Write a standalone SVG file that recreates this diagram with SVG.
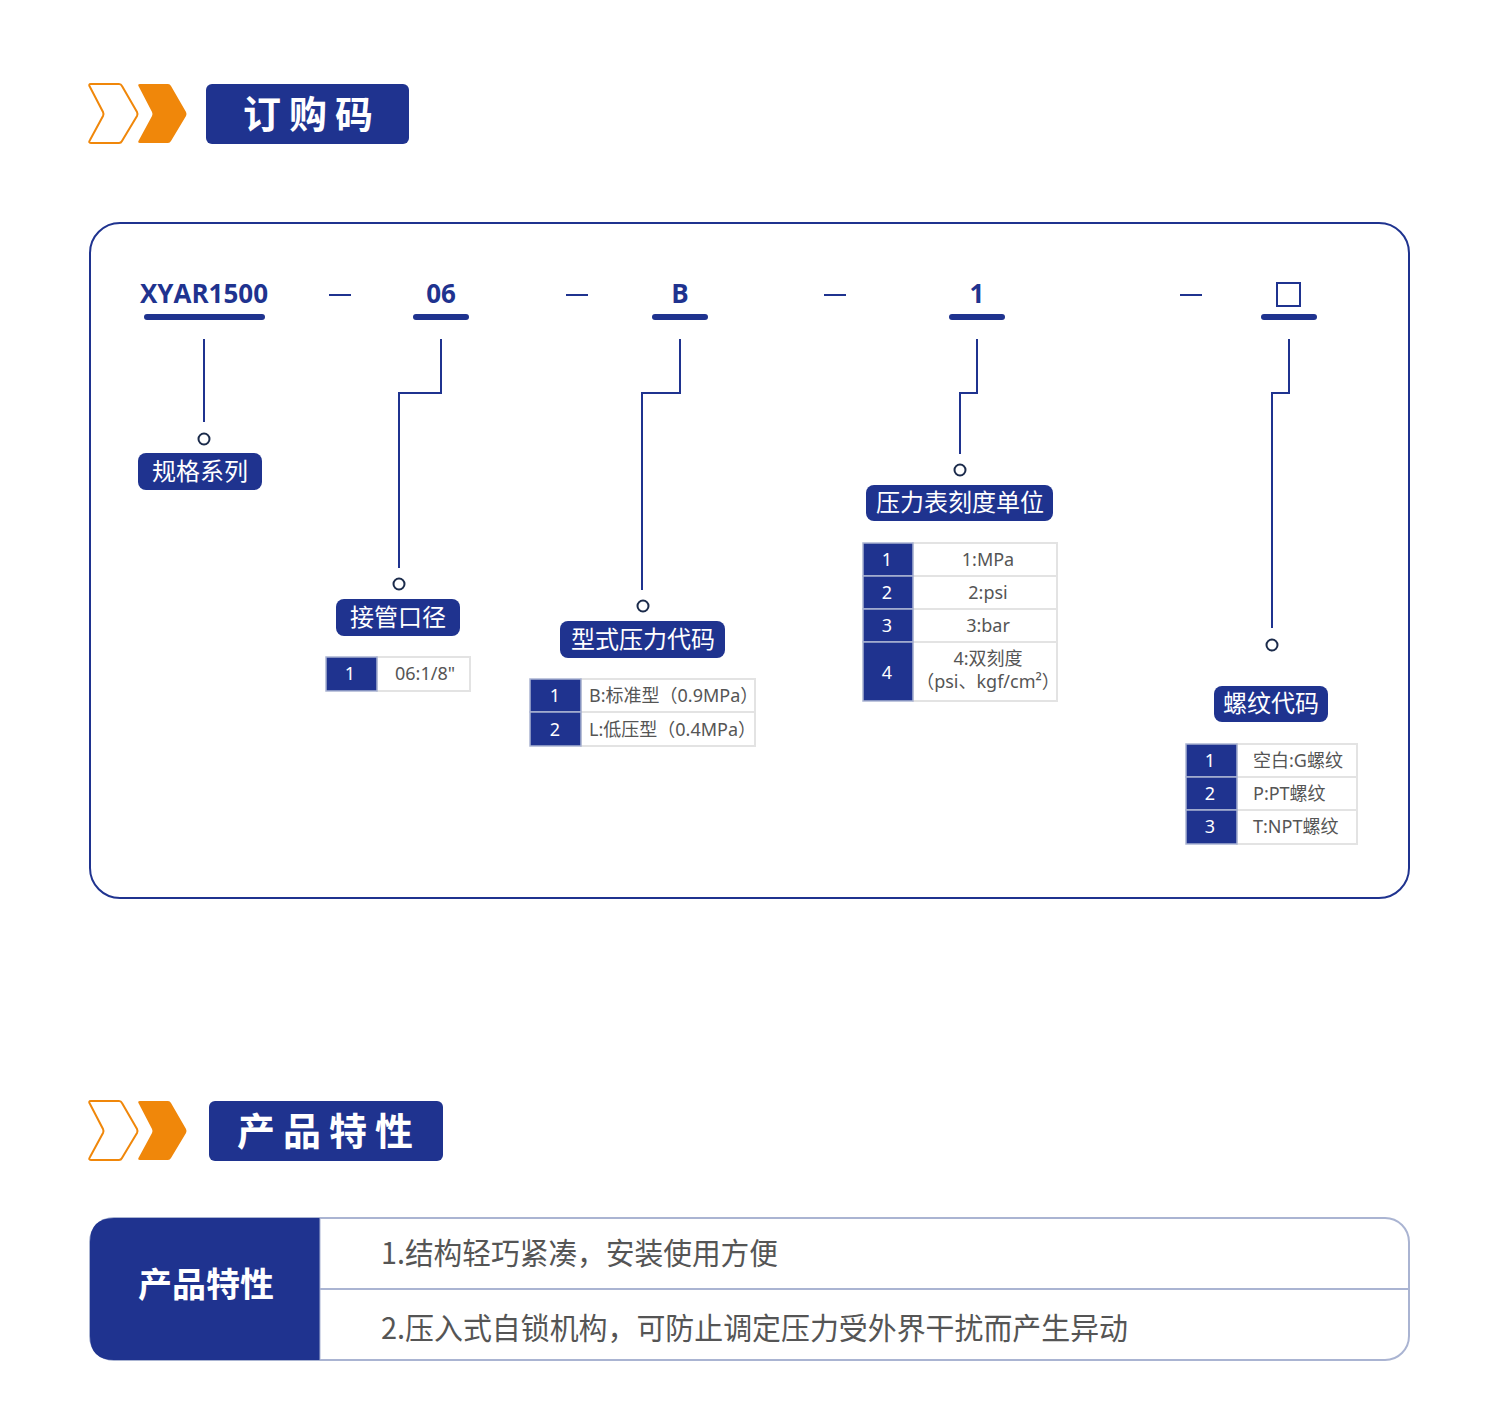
<svg xmlns="http://www.w3.org/2000/svg" width="1500" height="1415" viewBox="0 0 1500 1415">
<style>
.blue{fill:#1f338f}
.ln{fill:none;stroke:#1f338f;stroke-width:2}
.dot{fill:#fff;stroke:#1b2b4b;stroke-width:2}
.bar{stroke:#1f338f;stroke-width:6;stroke-linecap:round}
.code{font-family:"Open Sans","Liberation Sans",sans-serif;font-weight:bold;font-size:26px;fill:#1f338f;text-anchor:middle}
.lbl{font-family:"Noto Sans CJK SC","Noto Sans",sans-serif;font-size:24px;fill:#fff;text-anchor:middle}
.num{font-family:"Noto Sans","Noto Sans CJK SC",sans-serif;font-size:18px;fill:#fff;text-anchor:middle}
.cell{font-family:"Noto Sans","Noto Sans CJK SC",sans-serif;font-size:18px;fill:#555}
.cw{fill:#fff;stroke:#e3e3e3;stroke-width:2}
.cb{fill:#1f338f;stroke:#aab4d2;stroke-width:1.5}
.hd{font-family:"Noto Sans CJK SC",sans-serif;font-weight:bold;font-size:38px;fill:#fff}
.ft{font-family:"Noto Sans CJK SC",sans-serif;font-size:30px;fill:#555}
</style>
<defs>
<g id="chev">
<path d="M91,84 H119 Q121,84 122,86 L137,112 Q138,114 137,116 L122,141 Q121,143 119,143 H91 Q88,143 90,140 L103,116 Q104,114 103,112 L90,87 Q88,84 91,84 Z" fill="#fff" stroke="#f0870a" stroke-width="2"/>
<path d="M140,84 H168 Q170,84 171,86 L186,112 Q187,114 186,116 L171,141 Q170,143 168,143 H140 Q137,143 139,140 L152,116 Q153,114 152,112 L139,87 Q137,84 140,84 Z" fill="#f0870a"/>
</g>
</defs>
<rect width="1500" height="1415" fill="#fff"/>

<g id="header-order">
<use href="#chev"/>
<rect x="206" y="84" width="203" height="60" rx="6" class="blue"/>
<text x="243" y="128" class="hd" letter-spacing="8">订购码</text>
</g>

<rect id="frame" x="90" y="223" width="1319" height="675" rx="30" fill="#fff" stroke="#1f338f" stroke-width="2"/>

<g id="code-row">
<text x="204" y="303" class="code">XYAR1500</text>
<line x1="147" y1="317" x2="262" y2="317" class="bar"/>
<text x="441" y="303" class="code">06</text>
<line x1="416" y1="317" x2="466" y2="317" class="bar"/>
<text x="680" y="303" class="code">B</text>
<line x1="655" y1="317" x2="705" y2="317" class="bar"/>
<text x="977" y="303" class="code">1</text>
<line x1="952" y1="317" x2="1002" y2="317" class="bar"/>
<rect x="1277" y="283" width="23" height="23" fill="none" stroke="#1f338f" stroke-width="2"/>
<line x1="1264" y1="317" x2="1314" y2="317" class="bar"/>
<g class="ln">
<line x1="329" y1="295" x2="351" y2="295"/>
<line x1="566" y1="295" x2="588" y2="295"/>
<line x1="824" y1="295" x2="846" y2="295"/>
<line x1="1180" y1="295" x2="1202" y2="295"/>
</g>
</g>

<g id="connectors">
<path class="ln" d="M204,339 V422"/>
<path class="ln" d="M441,339 V393 H399 V568"/>
<path class="ln" d="M680,339 V393 H642 V590"/>
<path class="ln" d="M977,339 V393 H960 V454"/>
<path class="ln" d="M1289,339 V393 H1272 V628"/>
<circle cx="204" cy="439" r="5.5" class="dot"/>
<circle cx="399" cy="584" r="5.5" class="dot"/>
<circle cx="643" cy="606" r="5.5" class="dot"/>
<circle cx="960" cy="470" r="5.5" class="dot"/>
<circle cx="1272" cy="645" r="5.5" class="dot"/>
</g>

<g id="node-series">
<rect x="138" y="453" width="124" height="37" rx="8" class="blue"/>
<text x="200" y="480" class="lbl">规格系列</text>
</g>

<g id="node-port">
<rect x="336" y="599" width="124" height="37" rx="8" class="blue"/>
<text x="398" y="626" class="lbl">接管口径</text>
<rect x="377" y="657" width="93" height="34" class="cw"/>
<rect x="326" y="657" width="51" height="34" class="cb"/>
<text x="350" y="680" class="num">1</text>
<text x="395" y="680" class="cell">06:1/8"</text>
</g>

<g id="node-type">
<rect x="560" y="621" width="165" height="37" rx="8" class="blue"/>
<text x="643" y="648" class="lbl">型式压力代码</text>
<rect x="581" y="679" width="174" height="33" class="cw"/>
<rect x="581" y="712" width="174" height="34" class="cw"/>
<rect x="530" y="679" width="51" height="33" class="cb"/>
<rect x="530" y="712" width="51" height="34" class="cb"/>
<text x="555" y="702" class="num">1</text>
<text x="555" y="736" class="num">2</text>
<text x="589" y="702" class="cell">B:标准型（0.9MPa）</text>
<text x="589" y="736" class="cell">L:低压型（0.4MPa）</text>
</g>

<g id="node-unit">
<rect x="866" y="485" width="187" height="36" rx="8" class="blue"/>
<text x="960" y="511" class="lbl">压力表刻度单位</text>
<rect x="913" y="543" width="144" height="33" class="cw"/>
<rect x="913" y="576" width="144" height="33" class="cw"/>
<rect x="913" y="609" width="144" height="33" class="cw"/>
<rect x="913" y="642" width="144" height="59" class="cw"/>
<rect x="863" y="543" width="50" height="33" class="cb"/>
<rect x="863" y="576" width="50" height="33" class="cb"/>
<rect x="863" y="609" width="50" height="33" class="cb"/>
<rect x="863" y="642" width="50" height="59" class="cb"/>
<text x="887" y="566" class="num">1</text>
<text x="887" y="599" class="num">2</text>
<text x="887" y="632" class="num">3</text>
<text x="887" y="679" class="num">4</text>
<text x="988" y="566" class="cell" text-anchor="middle">1:MPa</text>
<text x="988" y="599" class="cell" text-anchor="middle">2:psi</text>
<text x="988" y="632" class="cell" text-anchor="middle">3:bar</text>
<text x="988" y="665" class="cell" text-anchor="middle">4:双刻度</text>
<text x="988" y="688" class="cell" text-anchor="middle">（psi、kgf/cm²）</text>
</g>

<g id="node-thread">
<rect x="1214" y="686" width="114" height="36" rx="8" class="blue"/>
<text x="1271" y="712" class="lbl">螺纹代码</text>
<rect x="1237" y="744" width="120" height="33" class="cw"/>
<rect x="1237" y="777" width="120" height="33" class="cw"/>
<rect x="1237" y="810" width="120" height="34" class="cw"/>
<rect x="1186" y="744" width="51" height="33" class="cb"/>
<rect x="1186" y="777" width="51" height="33" class="cb"/>
<rect x="1186" y="810" width="51" height="34" class="cb"/>
<text x="1210" y="767" class="num">1</text>
<text x="1210" y="800" class="num">2</text>
<text x="1210" y="833" class="num">3</text>
<text x="1253" y="767" class="cell">空白:G螺纹</text>
<text x="1253" y="800" class="cell">P:PT螺纹</text>
<text x="1253" y="833" class="cell">T:NPT螺纹</text>
</g>

<g id="header-features">
<use href="#chev" transform="translate(0,1017)"/>
<rect x="209" y="1101" width="234" height="60" rx="6" class="blue"/>
<text x="237" y="1145" class="hd" letter-spacing="8">产品特性</text>
</g>

<g id="features-table">
<rect x="90" y="1218" width="1319" height="142" rx="24" fill="#fff" stroke="#aab4d2" stroke-width="2"/>
<path d="M320,1218 H114 Q90,1218 90,1242 V1336 Q90,1360 114,1360 H320 Z" class="blue"/>
<line x1="320" y1="1289" x2="1409" y2="1289" stroke="#aab4d2" stroke-width="2"/>
<line x1="320" y1="1218" x2="320" y2="1360" stroke="#aab4d2" stroke-width="1"/>
<text x="206" y="1297" font-family="Noto Sans CJK SC, sans-serif" font-weight="bold" font-size="34" fill="#fff" text-anchor="middle">产品特性</text>
<text x="381" y="1264" class="ft" textLength="397" lengthAdjust="spacingAndGlyphs">1.结构轻巧紧凑，安装使用方便</text>
<text x="381" y="1339" class="ft" textLength="747" lengthAdjust="spacingAndGlyphs">2.压入式自锁机构，可防止调定压力受外界干扰而产生异动</text>
</g>
</svg>
